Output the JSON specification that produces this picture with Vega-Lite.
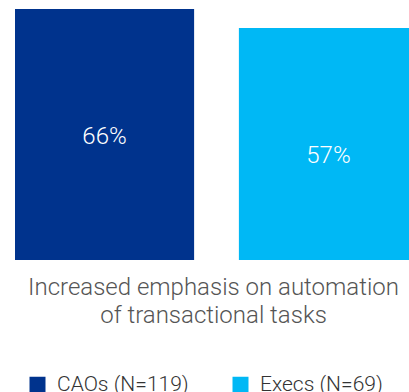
{
  "$schema": "https://vega.github.io/schema/vega-lite/v6.json",
  "width": 394,
  "height": 260,
  "autosize": "none",
  "padding": {"left": 15, "top": 0, "right": 0, "bottom": 132},
  "background": "white",
  "data": {
    "values": [
      {"group": "CAOs (N=119)", "value": 66, "label": "66%"},
      {"group": "Execs (N=69)", "value": 57, "label": "57%"}
    ]
  },
  "encoding": {
    "x": {
      "field": "group",
      "type": "nominal",
      "sort": null,
      "scale": {"paddingInner": 0.2, "paddingOuter": 0, "range": [0, 403]},
      "axis": {
        "title": ["Increased emphasis on automation", "of transactional tasks"],
        "labels": false,
        "ticks": false,
        "domain": false,
        "titleFont": "Roboto",
        "titleFontWeight": 300,
        "titleFontSize": 24,
        "titleColor": "#555555",
        "titlePadding": 15,
        "titleLineHeight": 28,
        "titleX": 198
      }
    }
  },
  "layer": [
    {
      "mark": {"type": "bar"},
      "encoding": {
        "y": {
          "field": "value",
          "type": "quantitative",
          "scale": {"domain": [-52.9, 70.26], "zero": false, "nice": false},
          "axis": null
        },
        "y2": {"datum": -52.9},
        "color": {
          "field": "group",
          "type": "nominal",
          "sort": null,
          "scale": {"range": ["#00338D", "#00B8F5"]},
          "legend": {
            "title": null,
            "orient": "none",
            "direction": "horizontal",
            "legendX": 12,
            "legendY": 374,
            "symbolType": "square",
            "symbolSize": 256,
            "symbolStrokeWidth": 0,
            "symbolOpacity": 1,
            "labelFont": "Roboto",
            "labelFontWeight": 300,
            "labelFontSize": 21,
            "labelColor": "#333333",
            "labelOffset": 9,
            "columnPadding": 41,
            "labelLimit": 300
          }
        }
      }
    },
    {
      "mark": {
        "type": "text",
        "dy": 128,
        "font": "Roboto",
        "fontWeight": 300,
        "fontSize": 24,
        "color": "white",
        "baseline": "middle"
      },
      "encoding": {
        "y": {"field": "value", "type": "quantitative"},
        "text": {"field": "label"}
      }
    }
  ],
  "config": {"view": {"stroke": null}}
}
